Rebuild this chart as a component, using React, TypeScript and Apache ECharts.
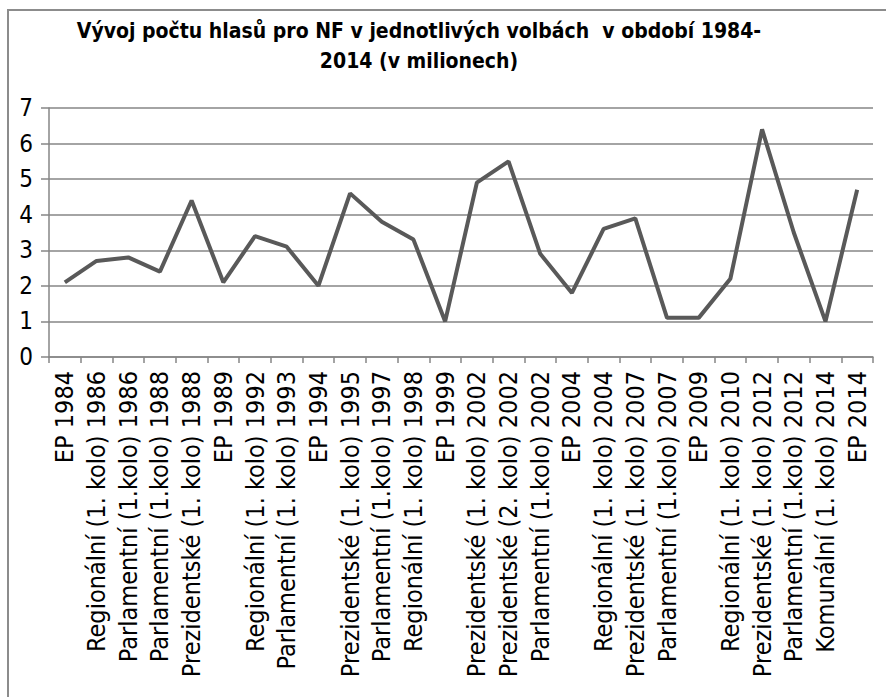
import React, { useEffect, useRef } from "react";
import * as echarts from "echarts";

const categories = [
  "EP 1984",
  "Regionální (1. kolo) 1986",
  "Parlamentní (1.kolo) 1986",
  "Parlamentní (1.kolo) 1988",
  "Prezidentské (1. kolo) 1988",
  "EP 1989",
  "Regionální (1. kolo) 1992",
  "Parlamentní (1. kolo) 1993",
  "EP 1994",
  "Prezidentské (1. kolo) 1995",
  "Parlamentní (1.kolo) 1997",
  "Regionální (1. kolo) 1998",
  "EP 1999",
  "Prezidentské (1. kolo) 2002",
  "Prezidentské (2. kolo) 2002",
  "Parlamentní (1.kolo) 2002",
  "EP 2004",
  "Regionální (1. kolo) 2004",
  "Prezidentské (1. kolo) 2007",
  "Parlamentní (1.kolo) 2007",
  "EP 2009",
  "Regionální (1. kolo) 2010",
  "Prezidentské (1. kolo) 2012",
  "Parlamentní (1.kolo) 2012",
  "Komunální (1. kolo) 2014",
  "EP 2014",
];

const votes = [
  2.1, 2.7, 2.8, 2.4, 4.4, 2.1, 3.4, 3.1, 2.0, 4.6, 3.8, 3.3, 1.0, 4.9, 5.5,
  2.9, 1.8, 3.6, 3.9, 1.1, 1.1, 2.2, 6.4, 3.5, 1.0, 4.7,
];

const titleText =
  "Vývoj počtu hlasů pro NF v jednotlivých volbách  v období 1984-\n2014 (v milionech)";

const FONT = '"Liberation Sans Narrow", "DejaVu Sans Condensed", "Liberation Sans", Arial, sans-serif';

export default function App() {
  const ref = useRef<HTMLDivElement>(null);
  useEffect(() => {
    if (!ref.current) return;
    const chart = echarts.init(ref.current, null, { renderer: "svg" });
    chart.setOption({
      animation: false,
      backgroundColor: "#ffffff",
      textStyle: { fontFamily: FONT },
      graphic: [
        {
          type: "rect",
          shape: { x: 8, y: 10, width: 900, height: 720 },
          style: { fill: "none", stroke: "#8c8c8c", lineWidth: 2 },
          silent: true,
          z: -1,
        },
        {
          type: "text",
          x: 419,
          y: 16,
          silent: true,
          style: {
            text: titleText,
            align: "center",
            verticalAlign: "top",
            font: 'bold 21px "Liberation Sans Narrow", "DejaVu Sans Condensed", sans-serif',
            fill: "#000000",
            lineHeight: 30,
          },
        },
      ],
      grid: { left: 49, right: 13, top: 108, bottom: 340, containLabel: false },
      xAxis: {
        type: "category",
        data: categories,
        boundaryGap: true,
        axisLine: { show: true, lineStyle: { color: "#868686", width: 1.5 } },
        axisTick: { show: true, alignWithLabel: false, length: 6, lineStyle: { color: "#868686", width: 1.5 } },
        axisLabel: {
          rotate: 90,
          interval: 0,
          margin: 14,
          fontFamily: FONT,
          fontSize: 25,
          color: "#000000",
        },
        splitLine: { show: false },
      },
      yAxis: {
        type: "value",
        min: 0,
        max: 7,
        interval: 1,
        axisLine: { show: true, lineStyle: { color: "#868686", width: 1.5 } },
        axisTick: { show: true, length: 8, lineStyle: { color: "#868686", width: 1.5 } },
        axisLabel: {
          margin: 16,
          fontFamily: FONT,
          fontSize: 24,
          color: "#000000",
        },
        splitLine: { show: true, lineStyle: { color: "#868686", width: 1.5 } },
      },
      series: [
        {
          type: "line",
          data: votes,
          showSymbol: false,
          symbol: "none",
          lineStyle: { color: "#595959", width: 4 },
          itemStyle: { color: "#595959" },
        },
      ],
    });
    return () => chart.dispose();
  }, []);
  return (
    <div
      ref={ref}
      style={{ position: "absolute", left: 0, top: 0, width: 886, height: 697 }}
    />
  );
}
